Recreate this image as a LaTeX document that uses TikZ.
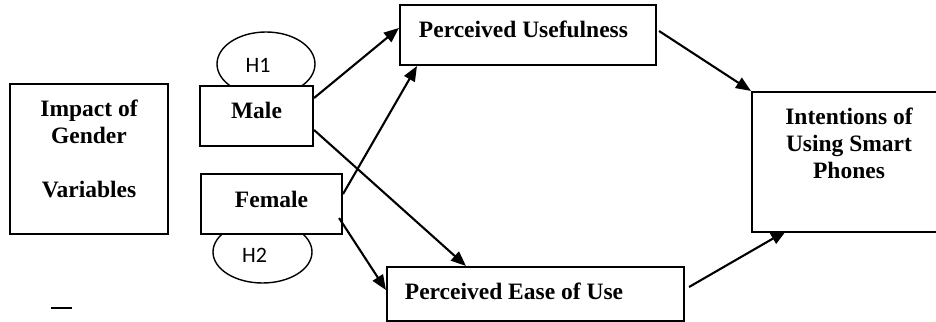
\documentclass[tikz,border=0pt]{standalone}
\usepackage{fontspec}
\setmainfont{Liberation Serif}
\newfontfamily\hfont{Carlito}
\usetikzlibrary{arrows.meta}
\tikzset{
  box/.style={draw, line width=2.1pt, fill=white, inner sep=0pt},
  lbl/.style={font=\fontsize{23.5}{27}\selectfont\bfseries, align=center, inner sep=0pt},
  hlbl/.style={font=\hfont\fontsize{22}{24}\selectfont, inner sep=0pt},
  arr/.style={line width=2.1pt, -{Triangle[length=15pt,width=12pt]}}
}
\begin{document}
\begin{tikzpicture}[x=1pt,y=-1pt]
\useasboundingbox (0,0) rectangle (936,321);
\clip (0,0) rectangle (936,321);
% ellipses
\draw[line width=1.4pt] (266,64) ellipse [x radius=49, y radius=32];
\draw[line width=1.4pt] (262.5,252) ellipse [x radius=49.5, y radius=31];
\node[hlbl] (h1) at (258,65) {H1};
\node[hlbl] (h2) at (254.5,255) {H2};
% boxes
\node[box, minimum width=158pt, minimum height=150pt] (impact) at (89,159) {};
\node[lbl] (impacttxt) at (89,149) {Impact of\\Gender\\[27pt]Variables};
\node[box, minimum width=113pt, minimum height=60pt] (male) at (256.5,116) {};
\node[lbl] (maletxt) at (256.5,110.5) {Male};
\node[box, minimum width=141pt, minimum height=60pt] (female) at (271.5,204) {};
\node[lbl] (femaletxt) at (271.5,199) {Female};
\node[box, minimum width=256pt, minimum height=60pt] (pu) at (528,35) {};
\node[lbl] (putxt) at (523.5,29) {Perceived Usefulness};
\node[box, minimum width=297pt, minimum height=54pt] (peu) at (535.5,294) {};
\node[lbl] (peutxt) at (514,291) {Perceived Ease of Use};
\node[box, minimum width=198pt, minimum height=140pt] (int) at (851,162) {};
\node[lbl] (inttxt) at (849,143) {Intentions of\\Using Smart\\Phones};
\node[inner sep=0pt] (dash) at (61.5,308) {\rule{21pt}{2pt}};
% arrows
\draw[arr] ([yshift=18pt]male.east) -- ([yshift=7pt]pu.west);
\draw[arr] ([yshift=10pt]female.east) -- ([xshift=18pt]pu.south west);
\draw[arr] ([yshift=-14pt]male.east) -- ([xshift=80pt]peu.north west);
\draw[arr] ([xshift=-4pt,yshift=-14pt]female.east) -- ([yshift=4pt]peu.west);
\draw[arr] ([xshift=2pt,yshift=4pt]pu.east) -- (int.north west);
\draw[arr] ([xshift=4pt,yshift=7pt]peu.east) -- ([xshift=35pt,yshift=2pt]int.south west);
\end{tikzpicture}
\end{document}
